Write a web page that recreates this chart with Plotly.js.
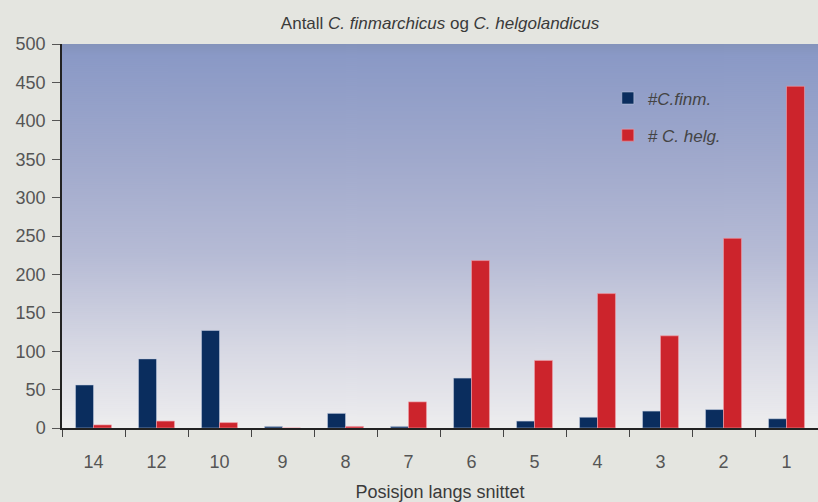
<!DOCTYPE html>
<html>
<head>
<meta charset="utf-8">
<script src="https://cdn.plot.ly/plotly-3.0.1.min.js"></script>
<style>html,body{margin:0;padding:0;background:#e4e5e0;}#chart{width:818px;height:502px;}</style>
</head>
<body>
<div id="chart"></div>
<script>
const positions = ['14','12','10','9','8','7','6','5','4','3','2','1'];
const finm = [56, 90, 127, 2, 19, 2, 65, 9, 14, 22, 24, 12];
const helg = [4, 9, 7, 0, 2, 34, 218, 88, 175, 120, 247, 445];
const yTicks = [0,50,100,150,200,250,300,350,400,450,500];

// gradient background for plot area
const cv = document.createElement('canvas');
cv.width = 4; cv.height = 384;
const ctx = cv.getContext('2d');
const g = ctx.createLinearGradient(0,0,0,384);
g.addColorStop(0, '#8493bb');
g.addColorStop(0.03, '#8a99c6');
g.addColorStop(0.3, '#a0a9cc');
g.addColorStop(0.55, '#b6bbd5');
g.addColorStop(0.8, '#d8d9e4');
g.addColorStop(0.95, '#e8e8ec');
g.addColorStop(1, '#eeeeee');
ctx.fillStyle = g; ctx.fillRect(0,0,4,384);
const bgUrl = cv.toDataURL();

const font = 'Liberation Sans, Arial, sans-serif';
const traces = [
  {type:'bar', x:positions, y:finm, name:'<i>#C.finm.</i>', legendgroup:'a',
   marker:{color:'#0a2d5e', line:{color:'rgba(200,210,230,0.5)', width:1}}},
  {type:'bar', x:positions, y:helg, name:'<i># C. helg.</i>', legendgroup:'b',
   marker:{color:'#cc242c', line:{color:'rgba(240,160,170,0.6)', width:1}}}
];
const layout = {
  width:818, height:502,
  margin:{l:62, r:0, t:44, b:74},
  paper_bgcolor:'#e4e5e0',
  plot_bgcolor:'rgba(0,0,0,0)',
  barmode:'group', bargap:0.43, bargroupgap:0,
  font:{family:font, color:'#555', size:17},
  title:{text:'Antall <i>C. finmarchicus</i> og <i>C. helgolandicus</i>', x:0.538, xanchor:'center', y:0.955, yanchor:'middle', font:{family:font, size:17, color:'#3a3a3a'}},
  xaxis:{type:'category', showgrid:false, showline:true, linecolor:'#222', linewidth:1.5,
    ticks:'outside', ticklen:7, tickcolor:'#444', tickson:'boundaries', ticklabelstandoff:17,
    tickfont:{size:18, color:'#555'},
    title:{text:'Posisjon langs snittet', standoff:16, font:{size:18, color:'#3a3a3a'}}},
  yaxis:{range:[0,500], tickvals:yTicks, showgrid:false, zeroline:false, showline:true, linecolor:'#222', linewidth:1.5,
    ticks:'outside', ticklen:8, tickcolor:'#555', ticklabelstandoff:3,
    tickfont:{size:18, color:'#555'}},
  legend:{x:0.722, y:0.905, xanchor:'left', yanchor:'top', bgcolor:'rgba(0,0,0,0)',
    traceorder:'grouped', tracegroupgap:12, itemwidth:30,
    font:{size:17, color:'#444'}},
  images:[{source:bgUrl, xref:'paper', yref:'paper', x:0, y:1, sizex:1, sizey:1,
    sizing:'stretch', layer:'below', xanchor:'left', yanchor:'top'}]
};
Plotly.newPlot('chart', traces, layout, {displayModeBar:false});
</script>
</body>
</html>
